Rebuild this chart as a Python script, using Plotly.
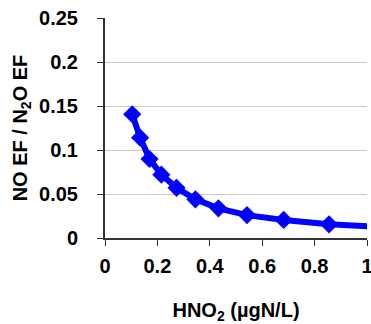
import plotly.graph_objects as go

hno2 = [0.104, 0.134, 0.170, 0.215, 0.273, 0.345, 0.433, 0.542, 0.682, 0.855, 1.07]
ratio = [0.1406, 0.114, 0.0898, 0.072, 0.057, 0.044, 0.0337, 0.026, 0.0205, 0.0155, 0.0123]
x_ticks = [0, 0.2, 0.4, 0.6, 0.8, 1]
x_labels = ["0", "0.2", "0.4", "0.6", "0.8", "1"]
y_ticks = [0, 0.05, 0.1, 0.15, 0.2, 0.25]
y_labels = ["0", "0.05", "0.1", "0.15", "0.2", "0.25"]

font = "Liberation Sans, Arial, sans-serif"
fs = 20

fig = go.Figure(go.Scatter(
    x=hno2, y=ratio, mode="lines+markers",
    line=dict(color="#0000FF", width=6),
    marker=dict(symbol="diamond", size=14, color="#0000FF"),
    cliponaxis=True,
))

fig.update_layout(
    width=371, height=324,
    margin=dict(l=105, r=4, t=18, b=86),
    paper_bgcolor="white", plot_bgcolor="white",
    showlegend=False,
    font=dict(family=font, size=fs, color="black"),
)
fig.update_xaxes(
    range=[0, 1], tickvals=x_ticks, ticktext=[f"<b>{t}</b>" for t in x_labels],
    showgrid=False, zeroline=False, automargin=False,
    showline=True, linecolor="#333333", linewidth=2,
    ticks="outside", ticklen=6, tickcolor="#333333", tickwidth=1,
    tickfont=dict(family=font, size=fs, color="black"),
    ticklabelstandoff=3, ticklabeloverflow="allow",
    title=dict(text="<b>HNO<sub>2</sub> (µgN/L)</b>", standoff=28,
               font=dict(family=font, size=fs, color="black")),
)
fig.update_yaxes(
    range=[0, 0.25], tickvals=y_ticks, ticktext=[f"<b>{t}</b>" for t in y_labels],
    showgrid=True, gridcolor="#C8C8C8", gridwidth=1, zeroline=False, automargin=False,
    showline=True, linecolor="#333333", linewidth=2,
    ticks="outside", ticklen=6, tickcolor="#333333", tickwidth=1,
    tickfont=dict(family=font, size=fs, color="black"),
    ticklabelstandoff=15, ticklabeloverflow="allow",
    title=dict(text="<b>NO EF / N<sub>2</sub>O EF</b>", standoff=6,
               font=dict(family=font, size=fs, color="black")),
)

fig.write_html("out.html", config={"displayModeBar": False},
               post_script="document.body.style.margin='0px';")
